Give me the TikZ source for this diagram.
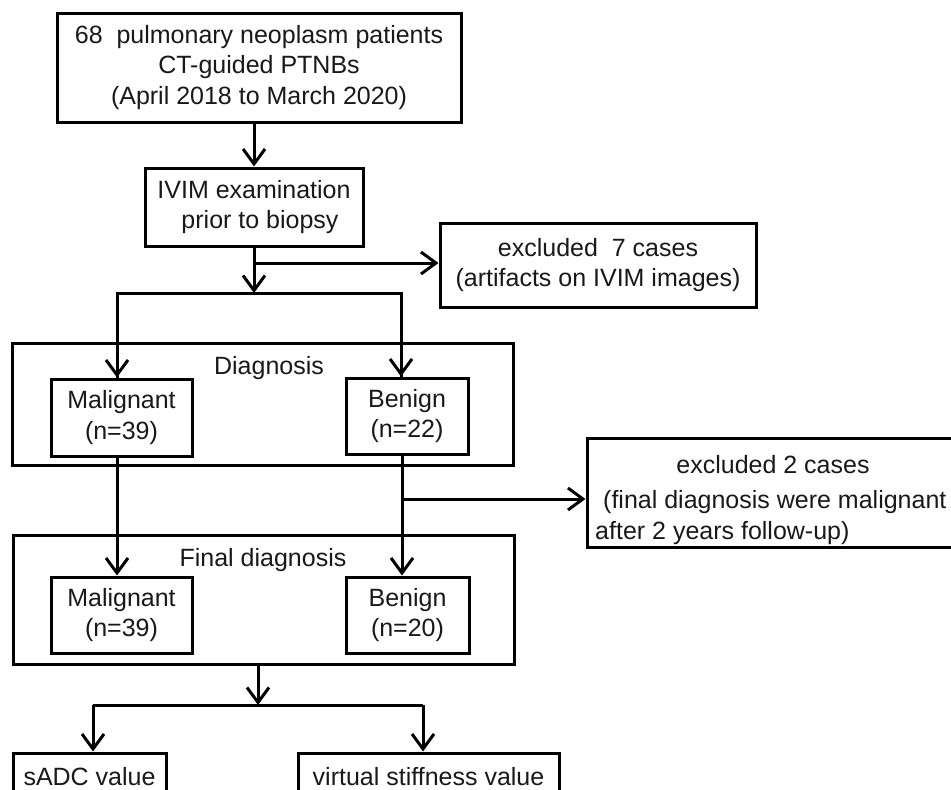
\documentclass[tikz,border=0pt]{standalone}
\usepackage{fontspec}
\setmainfont{Liberation Sans}
\usetikzlibrary{arrows.meta}
\begin{document}
\begin{tikzpicture}[x=1pt,y=-1pt,
  every node/.style={font=\fontsize{25}{30.5}\selectfont, text=black!90},
  box/.style={draw, line width=3pt, inner sep=0pt, align=center},
  lbl/.style={inner sep=0pt},
  conn/.style={line width=3pt},
  arr/.style={line width=3pt, -{Straight Barb[length=15pt,width=22pt,line width=3pt]}}]
\path[use as bounding box] (0,0) rectangle (951,790);
\clip (0,0) rectangle (951,790);
\fill[white] (0,0) rectangle (951,790);
% main boxes
\node[box, minimum width=404pt, minimum height=109pt] (top) at (259,67.5)
  {68\ \ pulmonary neoplasm patients\\CT-guided PTNBs\\(April 2018 to March 2020)};
\node[box, minimum width=218pt, minimum height=78pt] (ivim) at (254,207)
  {IVIM examination\\\hspace*{12pt}prior to biopsy};
\node[box, minimum width=316pt, minimum height=84pt] (ex1) at (598,265)
  {excluded\ \ 7 cases\\(artifacts on IVIM images)};
% diagnosis group
\node[box, minimum width=501pt, minimum height=122pt] (diag) at (262.5,404) {};
\node[lbl] (diagl) at (269,368) {Diagnosis};
\node[box, minimum width=141pt, minimum height=77pt] (mal1) at (121.5,417.5) {Malignant\\(n=39)};
\node[box, minimum width=122pt, minimum height=76pt] (ben1) at (407,416) {Benign\\(n=22)};
% final diagnosis group
\node[box, minimum width=501pt, minimum height=129pt] (fin) at (263.5,599.5) {};
\node[lbl] (finl) at (263,560) {Final diagnosis};
\node[box, minimum width=141pt, minimum height=76pt] (mal2) at (121.5,615) {Malignant\\(n=39)};
\node[box, minimum width=123pt, minimum height=76pt] (ben2) at (407.5,615) {Benign\\(n=20)};
% excluded 2
\node[box, minimum width=420pt, minimum height=109pt] (ex2) at (797,492.5) {};
\node[lbl] (ex2a) at (773,465) {excluded 2 cases};
\node[lbl, anchor=west] (ex2b) at (603,502) {(final diagnosis were malignant};
\node[lbl, anchor=west] (ex2c) at (595,533) {after 2 years follow-up)};
% bottom boxes
\node[box, minimum width=153pt, minimum height=48pt] (sadc) at (89.5,777) {sADC value};
\node[box, minimum width=261pt, minimum height=48pt] (vs) at (428.5,777) {virtual stiffness value};
% coordinates
\coordinate (b1) at (254,293);
\coordinate (b1L) at (117,293);
\coordinate (b1R) at (401,293);
\coordinate (b1E) at (254,263);
\coordinate (b2) at (402,499);
\coordinate (b3) at (258,705);
\coordinate (b3L) at (93,705);
\coordinate (b3R) at (423,705);
% connectors
\draw[arr] (top.south -| ivim.north) -- (ivim.north);
\draw[arr] (ivim.south) -- (b1);
\draw[arr] (b1E) -- (b1E -| ex1.west);
\draw[conn] (b1L |- mal1.north) -- (b1L) -- (b1R) -- (b1R |- ben1.north);
\draw[arr] (b1L) -- (b1L |- mal1.north);
\draw[arr] (b1R) -- (b1R |- ben1.north);
\draw[arr] (mal1.south -| b1L) -- (mal2.north -| b1L);
\draw[arr] (ben1.south -| b2) -- (ben2.north -| b2);
\draw[arr] (b2) -- (b2 -| ex2.west);
\draw[arr] (fin.south -| b3) -- (b3);
\draw[conn] (b3L) -- (b3R);
\draw[arr] (b3L) -- (b3L |- sadc.north);
\draw[arr] (b3R) -- (b3R |- vs.north);
\end{tikzpicture}
\end{document}
